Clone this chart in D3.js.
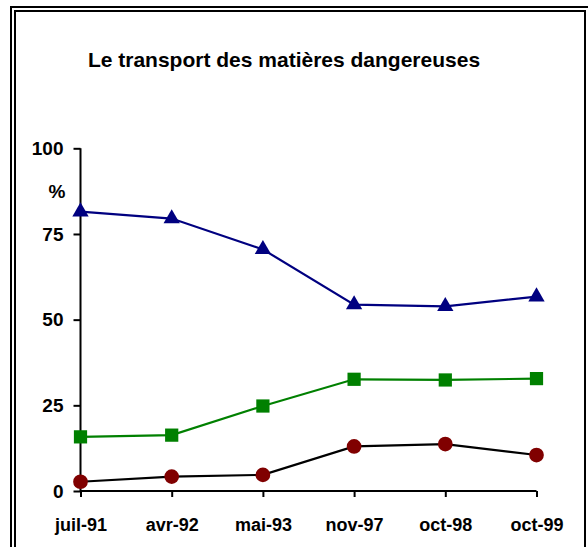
<!DOCTYPE html>
<html>
<head>
<meta charset="utf-8">
<script src="https://cdn.jsdelivr.net/npm/d3@7"></script>
<style>
  html, body { margin: 0; padding: 0; background: #fff; }
  svg { display: block; font-family: "Liberation Sans", Arial, sans-serif; }
</style>
</head>
<body>
<svg id="chart" width="588" height="547"></svg>
<script>
// Survey dates (category axis)
const dates = ["juil-91", "avr-92", "mai-93", "nov-97", "oct-98", "oct-99"];
// Shares in percent for the three series
const seriesTriangle = [81.5, 79.5, 70.5, 54.4, 53.9, 56.7];
const seriesSquare = [15.8, 16.3, 24.8, 32.6, 32.4, 32.8];
const seriesCircle = [2.7, 4.2, 4.7, 13.0, 13.7, 10.5];
// Value axis ticks
const yTicks = [0, 25, 50, 75, 100];

const title = "Le transport des matières dangereuses";

const svg = d3.select("#chart");

// Double frame around the chart area
svg.append("path")
  .attr("d", "M11,547 V7 H588")
  .attr("fill", "none").attr("stroke", "#000").attr("stroke-width", 2);
svg.append("path")
  .attr("d", "M15,547 V11 H585 V547")
  .attr("fill", "none").attr("stroke", "#000").attr("stroke-width", 2);

// Title
svg.append("text")
  .attr("x", 284).attr("y", 67)
  .attr("text-anchor", "middle")
  .attr("font-size", 21).attr("font-weight", "bold")
  .text(title);

const x = d3.scalePoint().domain(dates).range([80.5, 536.5]);
const y = d3.scaleLinear().domain([0, 100]).range([491, 148.3]);

// Y axis
const yAxis = svg.append("g")
  .attr("transform", "translate(80.5,0)")
  .call(d3.axisLeft(y).tickValues(yTicks).tickSize(7).tickPadding(10).tickFormat(d3.format("d")));
yAxis.select(".domain").attr("d", `M0,${y(100)}V${y(0)}`).attr("stroke", "#000").attr("stroke-width", 2);
yAxis.selectAll(".tick line").attr("stroke", "#000").attr("stroke-width", 2);
yAxis.selectAll(".tick text")
  .attr("font-size", 19).attr("font-weight", "bold").attr("fill", "#000")
  .attr("font-family", "Liberation Sans, Arial, sans-serif");

// Unit label
svg.append("text")
  .attr("x", 57).attr("y", 198)
  .attr("text-anchor", "middle")
  .attr("font-size", 19).attr("font-weight", "bold")
  .text("%");

// X axis
const xAxis = svg.append("g")
  .attr("transform", `translate(0,${y(0)})`)
  .call(d3.axisBottom(x).tickSize(6).tickPadding(21));
xAxis.select(".domain").attr("d", `M${x(dates[0])},0H${x(dates[dates.length - 1])}`)
  .attr("stroke", "#000").attr("stroke-width", 2);
xAxis.selectAll(".tick line").attr("stroke", "#000").attr("stroke-width", 2);
xAxis.selectAll(".tick text")
  .attr("font-size", 18).attr("font-weight", "bold").attr("fill", "#000")
  .attr("font-family", "Liberation Sans, Arial, sans-serif");

const line = d3.line().x((d, i) => x(dates[i])).y(d => y(d));

function drawSeries(values, lineColor, markerColor, symbolType, size) {
  const g = svg.append("g");
  g.append("path")
    .datum(values)
    .attr("d", line)
    .attr("fill", "none")
    .attr("stroke", lineColor)
    .attr("stroke-width", 2.2);
  g.selectAll("path.marker")
    .data(values)
    .join("path")
    .attr("class", "marker")
    .attr("transform", (d, i) => `translate(${x(dates[i])},${y(d)})`)
    .attr("d", d3.symbol().type(symbolType).size(size))
    .attr("fill", markerColor);
}

drawSeries(seriesTriangle, "#000080", "#000080", d3.symbolTriangle, 115);
drawSeries(seriesSquare, "#008000", "#008000", d3.symbolSquare, 175);
drawSeries(seriesCircle, "#000", "#800000", d3.symbolCircle, 170);
</script>
</body>
</html>
